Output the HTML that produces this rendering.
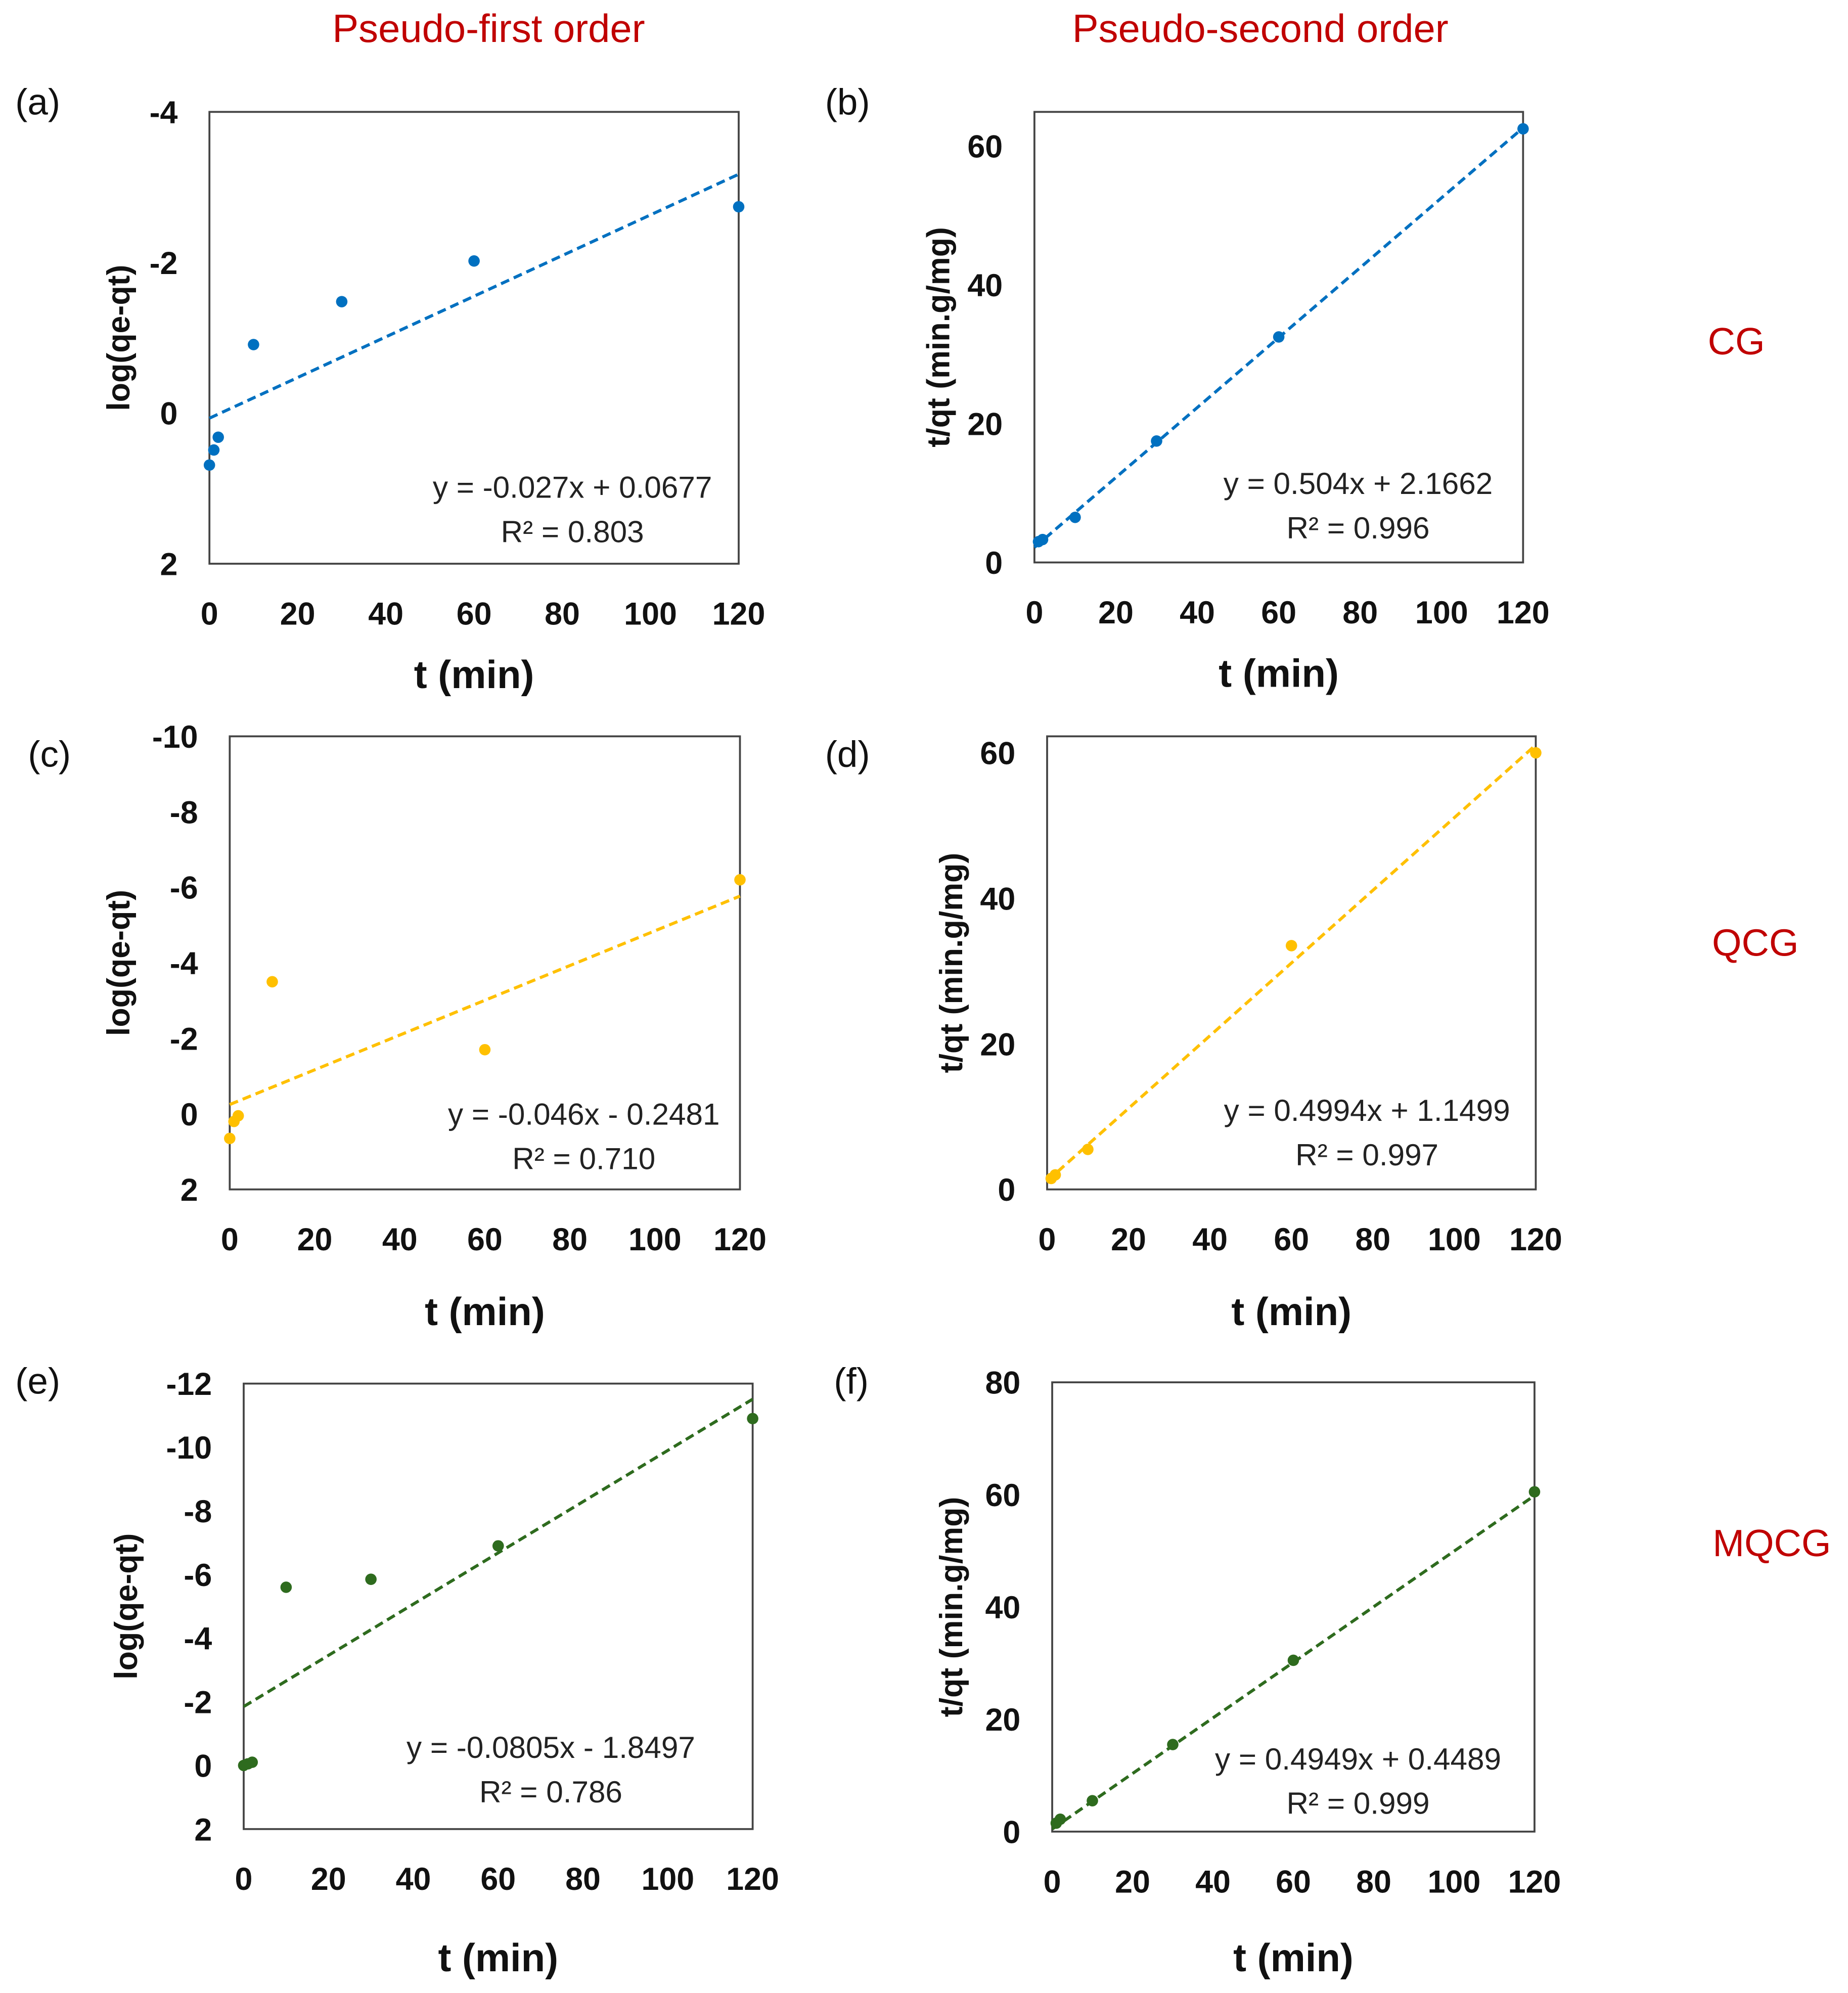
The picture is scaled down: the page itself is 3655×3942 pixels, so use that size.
<!DOCTYPE html>
<html><head><meta charset="utf-8">
<style>
html,body{margin:0;padding:0;background:#fff;}
svg{display:block;}
text{font-family:"Liberation Sans",sans-serif;}
</style></head>
<body>
<svg id="fig" width="3655" height="3942" viewBox="0 0 1456 1570" xmlns="http://www.w3.org/2000/svg">
<rect width="1456" height="1570" fill="#fff"/>
<text x="385" y="33" text-anchor="middle" font-size="31" fill="#c00000">Pseudo-first order</text>
<text x="993" y="33" text-anchor="middle" font-size="31" fill="#c00000">Pseudo-second order</text>
<text x="1368" y="279" text-anchor="middle" font-size="30" fill="#c00000">CG</text>
<text x="1383" y="753" text-anchor="middle" font-size="30" fill="#c00000">QCG</text>
<text x="1396" y="1226" text-anchor="middle" font-size="30" fill="#c00000">MQCG</text>
</svg>
<script>
// ---- data ----
const xTicks = [0, 20, 40, 60, 80, 100, 120];
const tA = [0, 1, 2, 10, 30, 60, 120];
const yA = [0.69, 0.49, 0.32, -0.91, -1.48, -2.02, -2.74];
const ticksA = [-4, -2, 0, 2];
const fitA = [-0.027, 0.0677];
const tB = [1, 2, 10, 30, 60, 120];
const yB = [3.0, 3.3, 6.5, 17.5, 32.5, 62.5];
const ticksB = [0, 20, 40, 60];
const fitB = [0.504, 2.1662];
const tC = [0, 1, 2, 10, 60, 120];
const yC = [0.65, 0.2, 0.05, -3.5, -1.7, -6.2];
const ticksC = [-10, -8, -6, -4, -2, 0, 2];
const fitC = [-0.046, -0.2481];
const tD = [1, 2, 10, 60, 120];
const yD = [1.5, 2.0, 5.5, 33.5, 60.0];
const ticksD = [0, 20, 40, 60];
const fitD = [0.4994, 1.1499];
const tE = [0, 1, 2, 10, 30, 60, 120];
const yE = [0.0, -0.05, -0.1, -5.6, -5.85, -6.9, -10.9];
const ticksE = [-12, -10, -8, -6, -4, -2, 0, 2];
const fitE = [-0.0805, -1.8497];
const tF = [1, 2, 10, 30, 60, 120];
const yF = [1.5, 2.2, 5.5, 15.5, 30.5, 60.5];
const ticksF = [0, 20, 40, 60, 80];
const fitF = [0.4949, 0.4489];

const NS = "http://www.w3.org/2000/svg";
const svg = document.getElementById('fig');
function mk(tag, attrs, parent){
  const e = document.createElementNS(NS, tag);
  for (const k in attrs) e.setAttribute(k, attrs[k]);
  (parent||svg).appendChild(e);
  return e;
}
function panel(p){
  const g = mk('g', {});
  
  
  const xs = v => p.x0 + (v - 0) / 120 * (p.x1 - p.x0);
  const ys = v => p.yb + (v - p.vb) / (p.vt - p.vb) * (p.yt - p.yb);
  const box = mk('rect', {x:p.x0, y:p.top, width:p.x1-p.x0, height:p.bot-p.top, fill:'none', stroke:'#444', 'stroke-width':1.5}, g);
  
  
  p.yTicks.forEach(v => {
    const t = mk('text', {x:p.x0-25, y:ys(v)+9, 'text-anchor':'end', 'font-size':25, 'font-weight':'bold', fill:'#111'}, g);
    t.textContent = String(v);
    
    
  });
  xTicks.forEach(v => {
    const t = mk('text', {x:xs(v), y:p.bot+48, 'text-anchor':'middle', 'font-size':25, 'font-weight':'bold', fill:'#111'}, g);
    t.textContent = String(v);
    
    
  });
  const xl = mk('text', {x:(p.x0+p.x1)/2, y:p.bot+p.xlo, 'text-anchor':'middle', 'font-size':31, 'font-weight':'bold', fill:'#111'}, g);
  xl.textContent = 't (min)';
  
  
  const yc = (p.top+p.bot)/2;
  const yl = mk('text', {x:p.ylx, y:yc, 'text-anchor':'middle', 'font-size':25, 'font-weight':'bold', fill:'#111', transform:'rotate(-90 '+p.ylx+' '+yc+')'}, g);
  yl.textContent = p.ylabel;
  
  
  const pl = mk('text', {x:p.lx, y:p.ly, 'font-size':29, fill:'#111'}, g);
  pl.textContent = '(' + p.id + ')';
  
  
  const line = mk('line', {x1:xs(0), y1:ys(p.fit[1]), x2:xs(120), y2:ys(p.fit[0]*120+p.fit[1]), stroke:p.color, 'stroke-width':2.4, 'stroke-dasharray':'7 4'}, g);
  
  
  p.t.forEach((tv, i) => {
    const c = mk('circle', {cx:xs(tv), cy:ys(p.y[i]), r:4.5, fill:p.color}, g);
    
    
  });
  const e1 = mk('text', {x:p.ex, y:p.ey, 'text-anchor':'middle', 'font-size':24, fill:'#222'}, g);
  e1.textContent = p.eq;
  
  
  const e2 = mk('text', {x:p.ex, y:p.ey+35, 'text-anchor':'middle', 'font-size':24, fill:'#222'}, g);
  e2.textContent = 'R² = ' + p.r2;
  
  
}
const L1 = 'log(qe-qt)', L2 = 't/qt (min.g/mg)';
panel({id:'a', x0:165, x1:582, top:88, bot:444, vt:-4, yt:88, vb:2, yb:444, yTicks:ticksA, t:tA, y:yA, fit:fitA, color:'#0070c0', ylabel:L1, ylx:102, lx:12, ly:90, eq:'y = -0.027x + 0.0677', r2:'0.803', ex:451, ey:392, xlo:98});
panel({id:'b', x0:815, x1:1200, top:88, bot:443, vt:60, yt:115, vb:0, yb:443, yTicks:ticksB, t:tB, y:yB, fit:fitB, color:'#0070c0', ylabel:L2, ylx:748, lx:650, ly:90, eq:'y = 0.504x + 2.1662', r2:'0.996', ex:1070, ey:389, xlo:98});
panel({id:'c', x0:181, x1:583, top:580, bot:937, vt:-10, yt:580, vb:2, yb:937, yTicks:ticksC, t:tC, y:yC, fit:fitC, color:'#ffc000', ylabel:L1, ylx:102, lx:22, ly:604, eq:'y = -0.046x - 0.2481', r2:'0.710', ex:460, ey:886, xlo:107});
panel({id:'d', x0:825, x1:1210, top:580, bot:937, vt:60, yt:593, vb:0, yb:937, yTicks:ticksD, t:tD, y:yD, fit:fitD, color:'#ffc000', ylabel:L2, ylx:758, lx:650, ly:604, eq:'y = 0.4994x + 1.1499', r2:'0.997', ex:1077, ey:883, xlo:107});
panel({id:'e', x0:192, x1:593, top:1090, bot:1441, vt:-12, yt:1090, vb:2, yb:1441, yTicks:ticksE, t:tE, y:yE, fit:fitE, color:'#2e6b1e', ylabel:L1, ylx:108, lx:12, ly:1098, eq:'y = -0.0805x - 1.8497', r2:'0.786', ex:434, ey:1385, xlo:112});
panel({id:'f', x0:829, x1:1209, top:1089, bot:1443, vt:80, yt:1089, vb:0, yb:1443, yTicks:ticksF, t:tF, y:yF, fit:fitF, color:'#2e6b1e', ylabel:L2, ylx:758, lx:657, ly:1098, eq:'y = 0.4949x + 0.4489', r2:'0.999', ex:1070, ey:1394, xlo:110});
</script>
</body></html>
